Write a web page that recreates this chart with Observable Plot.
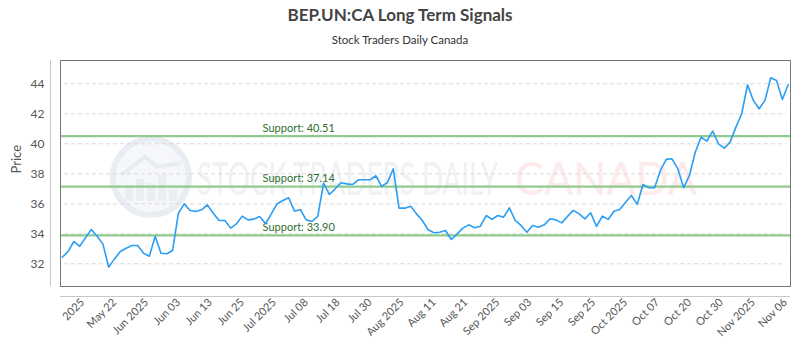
<!DOCTYPE html>
<html>
<head>
<meta charset="utf-8">
<script src="https://cdn.jsdelivr.net/npm/d3@7"></script>
<script src="https://cdn.jsdelivr.net/npm/@observablehq/plot@0.6"></script>
<style>
  body { margin: 0; background: #fff; }
  #wrap { width: 800px; height: 350px; position: relative; overflow: hidden; }
  #title { position: absolute; top: 4px; left: 0; width: 800px; text-align: center;
           font-family: Lato, "Open Sans", sans-serif; font-weight: bold; font-size: 17px; color: #444; }
  #subtitle { position: absolute; top: 33px; left: 0; width: 800px; text-align: center;
           font-family: Lato, "Open Sans", sans-serif; font-size: 11.5px; color: #333; }
  #chart { position: absolute; top: 50px; left: 0; }
</style>
</head>
<body>
<div id="wrap">
  <div id="title">BEP.UN:CA Long Term Signals</div>
  <div id="subtitle">Stock Traders Daily Canada</div>
  <div id="chart"></div>
</div>
<script>
// ---- data ----
const prices = [
  32.44, 32.82, 33.49, 33.17, 33.73, 34.29, 33.84, 33.33, 31.78, 32.33,
  32.82, 33.04, 33.22, 33.22, 32.71, 32.51, 33.84, 32.71, 32.67, 32.89,
  35.37, 36.00, 35.55, 35.49, 35.60, 35.93, 35.37, 34.89, 34.89, 34.38,
  34.67, 35.18, 34.93, 34.98, 35.15, 34.67, 35.33, 36.00, 36.22, 36.40,
  35.51, 35.62, 34.93, 34.82, 35.16, 37.38, 36.62, 37.00, 37.40, 37.33,
  37.29, 37.60, 37.60, 37.60, 37.87, 37.16, 37.42, 38.33, 35.71, 35.71,
  35.84, 35.33, 34.89, 34.27, 34.07, 34.11, 34.22, 33.62, 34.00, 34.38,
  34.60, 34.40, 34.51, 35.22, 34.96, 35.22, 35.11, 35.73, 34.89, 34.56,
  34.11, 34.55, 34.44, 34.60, 35.00, 34.93, 34.73, 35.16, 35.56, 35.33,
  35.00, 35.40, 34.49, 35.18, 34.96, 35.51, 35.62, 36.11, 36.56, 35.96,
  37.29, 37.07, 37.07, 38.22, 38.96, 39.00, 38.33, 37.07, 37.89, 39.44,
  40.44, 40.18, 40.84, 40.00, 39.71, 40.11, 41.11, 42.00, 43.93, 42.89,
  42.33, 42.89, 44.40, 44.22, 42.95, 43.93
];
const tickLabels = [
  "2025", "May 22", "Jun 2025", "Jun 03", "Jun 13", "Jun 25", "Jul 2025", "Jul 08",
  "Jul 18", "Jul 30", "Aug 2025", "Aug 11", "Aug 21", "Sep 2025", "Sep 03", "Sep 15",
  "Sep 25", "Oct 2025", "Oct 07", "Oct 20", "Oct 30", "Nov 2025", "Nov 06"
];
const yTicks = [32, 34, 36, 38, 40, 42, 44];
const supports = [40.51, 37.14, 33.90];
const yLabel = "Price";
const supportLabelIndex = 34.5;
const firstTickIndex = 3.5;
const tickStep = 5.5;

// ---- build ----
const data = prices.map((v, i) => ({i, v}));
const tickPos = tickLabels.map((_, k) => firstTickIndex + k * tickStep);
const labelOf = new Map(tickPos.map((p, k) => [p, tickLabels[k]]));
const xDomain = [-0.3, prices.length - 1 + 0.4];
const yDomain = [30.49, 45.55];

const chart = Plot.plot({
  width: 800,
  height: 300,
  marginTop: 10,
  marginLeft: 60,
  marginRight: 10,
  marginBottom: 64,
  style: {fontFamily: "Lato, 'Open Sans', sans-serif", fontSize: "12px", color: "#555", background: "transparent"},
  x: {domain: xDomain, axis: null},
  y: {domain: yDomain, axis: null},
  marks: [
    Plot.gridY(yTicks, {stroke: "#d9d9d9", strokeOpacity: 1, strokeDasharray: "4,3", insetLeft: 4, insetRight: 4}),
    Plot.ruleY(supports, {stroke: "#8fca8f", strokeWidth: 2.2}),
    Plot.text(supports, {
      x: () => supportLabelIndex, y: d => d,
      text: d => `Support: ${d.toFixed(2)}`,
      dy: -8, textAnchor: "start", fill: "#2f6e2f", fontSize: 11
    }),
    Plot.lineY(data, {x: "i", y: "v", stroke: "#2a9df4", strokeWidth: 1.6}),
    Plot.frame({stroke: "#777"}),
    Plot.ruleX([xDomain[0]], {dx: -10, stroke: "#c8c8c8"}),
    Plot.ruleY([yDomain[0]], {dy: 10, stroke: "#c8c8c8"}),
    Plot.axisY(yTicks, {tickSize: 0, tickPadding: 16, fontSize: 12, fill: "#555", label: null}),
    Plot.text([yLabel], {frameAnchor: "left", text: d => d, rotate: -90, dx: -44, fontSize: 13, fill: "#555"}),
    Plot.axisX(tickPos, {tickSize: 0, tickPadding: 14, tickRotate: -45, fontSize: 11, fill: "#555",
      tickFormat: d => labelOf.get(d), label: null})
  ]
});
document.getElementById("chart").appendChild(chart);

// ---- faint watermark behind marks ----
const svg = d3.select(chart);
const wm = svg.insert("g", "g").attr("class", "watermark").attr("text-anchor", "start");
const cx = 151, cy = 127;
wm.append("circle").attr("cx", cx).attr("cy", cy).attr("r", 38)
  .attr("fill", "#f6f7fa").attr("stroke", "#e9ecf2").attr("stroke-width", 6);
[[-22, 14], [-11, 22], [0, 18], [11, 26], [22, 12]].forEach(([dx, h]) => {
  wm.append("rect").attr("x", cx + dx - 4).attr("y", cy + 24 - h).attr("width", 8).attr("height", h)
    .attr("fill", "#eaedf2");
});
wm.append("path").attr("d", `M${cx-30},${cy-2} L${cx-6},${cy-20} L${cx+6},${cy-10} L${cx+30},${cy-14}`)
  .attr("fill", "none").attr("stroke", "#e8ebf0").attr("stroke-width", 4);
wm.append("text").attr("x", 197).attr("y", 145).attr("textLength", 301).attr("lengthAdjust", "spacingAndGlyphs")
  .attr("text-anchor", "start")
  .attr("font-family", "Lato, sans-serif").attr("font-size", 46).attr("fill", "#eff1f4")
  .text("STOCK TRADERS DAILY");
wm.append("text").attr("x", 515).attr("y", 145).attr("textLength", 182).attr("lengthAdjust", "spacingAndGlyphs")
  .attr("text-anchor", "start")
  .attr("font-family", "Lato, sans-serif").attr("font-size", 46).attr("fill", "#fdeaea")
  .text("CANADA");
</script>
</body>
</html>
